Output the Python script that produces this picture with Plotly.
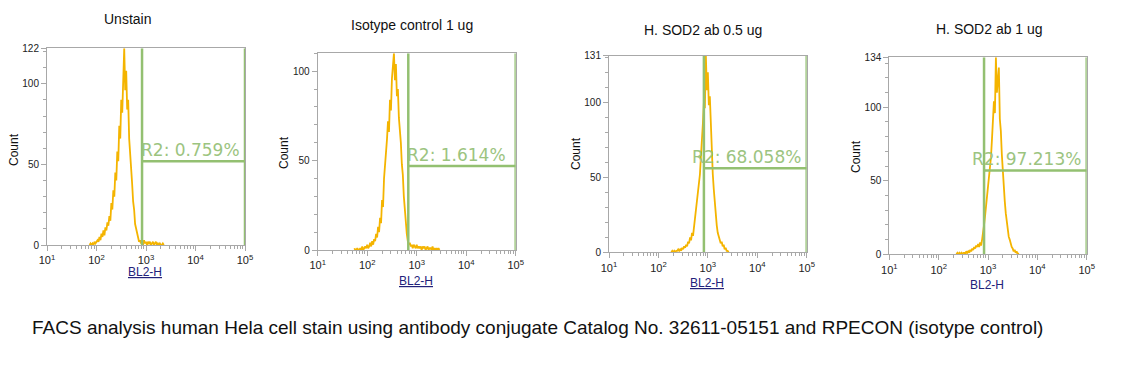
import numpy as np
import plotly.graph_objects as go

W, H = 1122, 368
OFF = 8  # page body margin in the browser

# ---------------- data ----------------
titles = ["Unstain", "Isotype control 1 ug", "H. SOD2 ab 0.5 ug", "H. SOD2 ab 1 ug"]
gate_labels = ["R2: 0.759%", "R2: 1.614%", "R2: 68.058%", "R2: 97.213%"]
y_max = [122, 110, 131, 134]
y_top_label = [True, False, True, True]
gate_start_log = [2.92, 2.83, 2.92, 2.92]
gate_level = [52, 47, 56, 57]

x_tickvals = [1e1, 1e2, 1e3, 1e4, 1e5]
x_ticktext = ["10<sup>1</sup>", "10<sup>2</sup>", "10<sup>3</sup>", "10<sup>4</sup>", "10<sup>5</sup>"]

# histogram channels: start (log10) and counts, step 0.02 decades
step = 0.02
h1_start = 1.86
h1_counts = [0, 1, 0, 1, 0, 2, 1, 2, 3, 2, 5, 3, 7, 5, 9, 6, 11, 9, 14, 12,
             18, 15, 26, 22, 34, 30, 45, 40, 58, 52, 74, 66, 90, 82, 103, 122, 96, 108, 84, 90,
             66, 58, 46, 38, 27, 22, 13, 10, 6, 4, 2, 3, 1, 2, 0, 3, 1, 2, 0, 2,
             1, 2, 0, 1, 2, 0, 1, 2, 0, 1, 0, 1, 0, 0, 1, 0]
h2_start = 1.74
h2_counts = [1, 0, 0, 1, 0, 0, 1, 0, 2, 0, 1, 2, 1, 3, 1, 2, 4, 2, 5, 3,
             6, 5, 9, 7, 13, 10, 18, 15, 28, 24, 40, 46, 56, 62, 72, 66, 84, 78, 96, 102,
             110, 95, 104, 86, 90, 74, 68, 60, 48, 42, 30, 22, 14, 9, 5, 3, 4, 2, 3, 1,
             3, 2, 1, 3, 1, 2, 1, 2, 0, 2, 1, 2, 0, 1, 2, 0, 1, 1, 0, 2,
             0, 1, 0, 1, 0, 1, 0]
h3_start = 2.26
h3_counts = [0, 1, 0, 1, 0, 1, 1, 2, 1, 2, 1, 3, 2, 4, 3, 5, 4, 7, 6, 10,
             8, 13, 11, 17, 22, 28, 35, 38, 46, 52, 64, 72, 86, 100, 96, 131, 108, 120, 98, 104,
             82, 66, 52, 42, 32, 24, 18, 13, 10, 8, 6, 7, 4, 5, 2, 3, 1, 1, 0]
h4_start = 2.36
h4_counts = [0, 1, 0, 1, 0, 1, 0, 1, 1, 0, 2, 1, 2, 1, 3, 2, 4, 3, 5, 4,
             6, 5, 7, 5, 8, 6, 10, 14, 20, 26, 32, 40, 46, 54, 60, 66, 78, 90, 104, 96,
             134, 110, 118, 127, 92, 84, 68, 54, 44, 36, 28, 22, 18, 12, 10, 7, 5, 4, 2, 3,
             1, 2, 0, 1]

hist_starts = [h1_start, h2_start, h3_start, h4_start]
hist_counts = [h1_counts, h2_counts, h3_counts, h4_counts]

caption = ("FACS analysis human Hela cell stain using antibody conjugate Catalog No. "
           "32611-05151 and RPECON (isotype control)")

# ---------------- layout (screen pixel positions) ----------------
boxes = [  # x0, x1, ytop, ybottom
    (47, 245, 48.3, 245),
    (317.7, 515.7, 53.3, 250),
    (609, 806.7, 55.7, 252.3),
    (889.3, 1086.7, 57.3, 254.3),
]
title_pos = [(127.7, 19), (411.7, 25), (703, 30), (989, 29)]
count_pos = [(14, 150), (284, 153), (576, 154), (856, 156)]
xlab_pos = [(144.7, 272), (415.7, 281), (706.7, 283), (986.7, 285)]
xlab_underline = [True, True, True, False]
label_right_anchor = [False, False, True, True]


def px(x):
    return (x - OFF) / W


def py(y):
    return 1 - (y - OFF) / H


HIST = "#F4B400"
GATE = "#93C071"
GATE_TXT = "#9CC47F"
AXC = "#A8A8A8"

fig = go.Figure()
annotations = []

for i in range(4):
    ax = "" if i == 0 else str(i + 1)
    xr, yr = "x" + ax, "y" + ax
    x0, x1, yt, yb = boxes[i]
    logs = hist_starts[i] + step * np.arange(len(hist_counts[i]))
    fig.add_trace(go.Scatter(
        x=10 ** logs, y=hist_counts[i], mode="lines",
        line=dict(color=HIST, width=1.8), xaxis=xr, yaxis=yr,
        showlegend=False, hoverinfo="skip"))
    g = 10 ** gate_start_log[i]
    fig.add_trace(go.Scatter(
        x=[g, g, None, g, 1e5, None, 1e5, 1e5],
        y=[0, y_max[i], None, gate_level[i], gate_level[i], None, 0, y_max[i]],
        mode="lines", line=dict(color=GATE, width=2.5), xaxis=xr, yaxis=yr,
        showlegend=False, hoverinfo="skip", cliponaxis=False))

    yt_vals = [0, 50, 100] + ([y_max[i]] if y_top_label[i] else [])
    fig.update_layout({
        "xaxis" + ax: dict(
            type="log", range=[1, 5], domain=[px(x0), px(x1)], anchor=yr, automargin=False,
            tickvals=x_tickvals, ticktext=x_ticktext, ticks="outside", ticklen=5,
            tickcolor=AXC, showline=True, linecolor=AXC, mirror=True, showgrid=False,
            zeroline=False, tickfont=dict(family="Liberation Sans, Arial", size=11, color="#222"),
            minor=dict(tickvals=[k * 10 ** d for d in range(1, 5) for k in range(2, 10)],
                       ticks="outside", ticklen=3, tickcolor=AXC, showgrid=False),
        ),
        "yaxis" + ax: dict(
            range=[0, y_max[i]], domain=[py(yb), py(yt)], anchor=xr, automargin=False,
            tickvals=yt_vals, ticks="outside", ticklen=5, tickcolor=AXC,
            showline=True, linecolor=AXC, mirror=True, showgrid=False, zeroline=False,
            tickfont=dict(family="Liberation Sans, Arial", size=10, color="#222"),
            minor=dict(dtick=10, tick0=0, ticks="outside", ticklen=3, tickcolor=AXC, showgrid=False),
        ),
    })

    tx, ty = title_pos[i]
    annotations.append(dict(text=titles[i], x=px(tx), y=py(ty), xref="paper", yref="paper",
                            showarrow=False, xanchor="center", yanchor="middle",
                            font=dict(family="Liberation Sans, Arial", size=14, color="#111")))
    cx, cy = count_pos[i]
    annotations.append(dict(text="Count", x=px(cx), y=py(cy), xref="paper", yref="paper",
                            showarrow=False, textangle=-90, xanchor="center", yanchor="middle",
                            borderpad=0,
                            font=dict(family="Liberation Sans, Arial", size=12, color="#111")))
    lx, ly = xlab_pos[i]
    annotations.append(dict(text="BL2-H", x=px(lx), y=py(ly), xref="paper", yref="paper",
                            showarrow=False, xanchor="center", yanchor="middle",
                            font=dict(family="Liberation Sans, Arial", size=12, color="#22227A",
                                      lineposition="under" if xlab_underline[i] else "none")))
    gfont = dict(family="DejaVu Sans, Verdana", size=17, color=GATE_TXT)
    if label_right_anchor[i]:
        annotations.append(dict(text=gate_labels[i], x=5, y=gate_level[i], xref=xr, yref=yr,
                                showarrow=False, xanchor="right", yanchor="bottom", xshift=-4, yshift=-1,
                                font=gfont))
    else:
        annotations.append(dict(text=gate_labels[i], x=gate_start_log[i], y=gate_level[i], xref=xr, yref=yr,
                                showarrow=False, xanchor="left", yanchor="bottom", xshift=-3, yshift=-1,
                                font=gfont))

annotations.append(dict(text=caption, x=px(30), y=py(327), xref="paper", yref="paper",
                        showarrow=False, xanchor="left", yanchor="middle",
                        font=dict(family="Liberation Sans, Arial", size=19, color="#111")))

fig.update_layout(width=W, height=H, margin=dict(l=0, r=0, t=0, b=0),
                  paper_bgcolor="white", plot_bgcolor="white", annotations=annotations)

fig.write_html("out.html")
